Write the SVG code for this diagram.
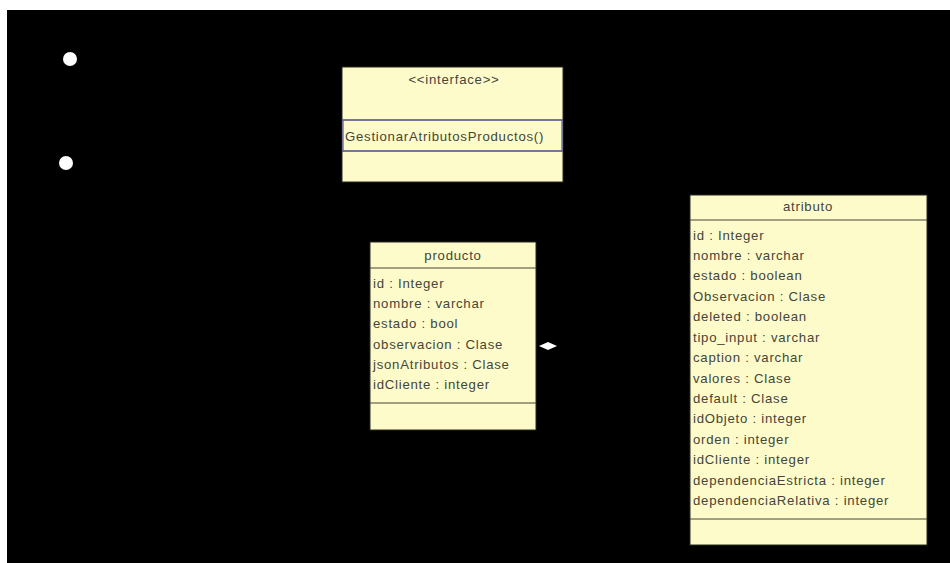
<svg xmlns="http://www.w3.org/2000/svg" width="950" height="563" viewBox="0 0 950 563">
  <style>
    .cls { fill: #fdfbc9; stroke: #2a2a20; stroke-width: 1; }
    .sep { stroke: #444438; stroke-width: 1; }
    .t { font-family: "Liberation Sans", Arial, sans-serif; font-size: 13.2px; letter-spacing: 0.75px; fill: #45453a; }
    .c { text-anchor: middle; }
  </style>
  <!-- canvas -->
  <rect x="0" y="0" width="950" height="563" fill="#ffffff"/>
  <rect x="7" y="10" width="943" height="553" fill="#000000"/>

  <!-- connectors -->
  <g id="connectors">
    <polygon points="539,346 548,342 557,346 548,350" fill="#ffffff"/>
  </g>

  <!-- loose points -->
  <g id="dots">
    <circle cx="70" cy="59" r="7" fill="#ffffff"/>
    <circle cx="66" cy="163" r="7" fill="#ffffff"/>
  </g>

  <!-- interface -->
  <g id="interface">
    <rect class="cls" x="342" y="67" width="221" height="115"/>
    <text class="t c" x="454" y="84" font-size="11px">&lt;&lt;interface&gt;&gt;</text>
    <line class="sep" x1="342" y1="120" x2="563" y2="120"/>
    <line class="sep" x1="342" y1="151" x2="563" y2="151"/>
    <rect x="343" y="120" width="219" height="31" fill="none" stroke="#5b5ba8" stroke-width="1.2"/>
    <text class="t" x="345" y="141">GestionarAtributosProductos()</text>
  </g>

  <!-- producto -->
  <g id="producto">
    <rect class="cls" x="370" y="242" width="166" height="188"/>
    <text class="t c" x="453" y="260">producto</text>
    <line class="sep" x1="370" y1="268" x2="536" y2="268"/>
    <text class="t" x="373" y="288">id : Integer</text>
    <text class="t" x="373" y="308">nombre : varchar</text>
    <text class="t" x="373" y="328">estado : bool</text>
    <text class="t" x="373" y="349">observacion : Clase</text>
    <text class="t" x="373" y="369">jsonAtributos : Clase</text>
    <text class="t" x="373" y="389">idCliente : integer</text>
    <line class="sep" x1="370" y1="403" x2="536" y2="403"/>
  </g>

  <!-- atributo -->
  <g id="atributo">
    <rect class="cls" x="690" y="195" width="237" height="350"/>
    <text class="t c" x="808" y="211">atributo</text>
    <line class="sep" x1="690" y1="220" x2="927" y2="220"/>
    <text class="t" x="693" y="240">id : Integer</text>
    <text class="t" x="693" y="260">nombre : varchar</text>
    <text class="t" x="693" y="280">estado : boolean</text>
    <text class="t" x="693" y="301">Observacion : Clase</text>
    <text class="t" x="693" y="321">deleted : boolean</text>
    <text class="t" x="693" y="342">tipo_input : varchar</text>
    <text class="t" x="693" y="362">caption : varchar</text>
    <text class="t" x="693" y="383">valores : Clase</text>
    <text class="t" x="693" y="403">default : Clase</text>
    <text class="t" x="693" y="423">idObjeto : integer</text>
    <text class="t" x="693" y="444">orden : integer</text>
    <text class="t" x="693" y="464">idCliente : integer</text>
    <text class="t" x="693" y="485">dependenciaEstricta : integer</text>
    <text class="t" x="693" y="505">dependenciaRelativa : integer</text>
    <line class="sep" x1="690" y1="519" x2="927" y2="519"/>
  </g>
</svg>
